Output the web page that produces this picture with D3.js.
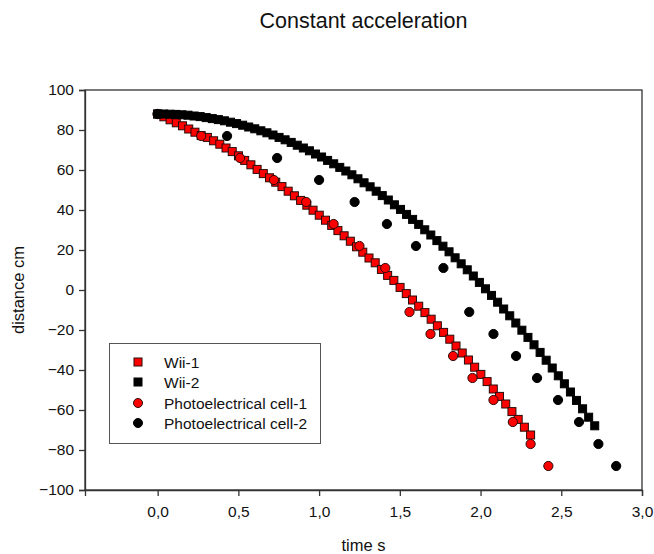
<!DOCTYPE html>
<html><head><meta charset="utf-8">
<script src="https://cdn.jsdelivr.net/npm/d3@7/dist/d3.min.js"></script>
<style>body{margin:0;background:#fff;}svg{display:block;font-family:Arial,"Liberation Sans",sans-serif;}</style>
</head><body>
<svg id="c" width="654" height="554"></svg>
<script>
const title = "Constant acceleration";
const xLabel = "time s";
const yLabel = "distance cm";
const xTicks = [0, 0.5, 1.0, 1.5, 2.0, 2.5, 3.0];
const yTicks = [-100, -80, -60, -40, -20, 0, 20, 40, 60, 80, 100];
const seriesNames = ["Wii-1", "Wii-2", "Photoelectrical cell-1", "Photoelectrical cell-2"];

const wii1T = [0,0.0385,0.077,0.1155,0.154,0.1925,0.231,0.2695,0.308,0.3465,0.385,0.4235,0.462,0.5005,0.539,0.5775,0.616,0.6545,0.693,0.7315,0.77,0.8085,0.847,0.8855,0.924,0.9625,1.001,1.0395,1.078,1.1165,1.155,1.1935,1.232,1.2705,1.309,1.3475,1.386,1.4245,1.463,1.5015,1.54,1.5785,1.617,1.6555,1.694,1.7325,1.771,1.8095,1.848,1.8865,1.925,1.9635,2.002,2.0405,2.079,2.1175,2.156,2.1945,2.233,2.2715,2.31];
const wii1D = [88.0,86.6,85.1,83.6,82.1,80.5,78.9,77.2,76.3,74.6,72.9,71.0,69.2,67.1,64.8,62.6,60.3,58.2,56.1,53.9,51.7,49.4,47.1,44.8,42.4,39.9,37.4,34.9,32.3,29.7,27.1,24.4,21.6,18.9,16.0,13.6,10.3,7.3,4.8,1.3,-1.8,-5.0,-8.1,-11.3,-14.6,-17.9,-21.2,-24.6,-28.0,-31.5,-35.0,-38.6,-42.2,-45.8,-49.5,-53.2,-57.0,-60.8,-64.7,-68.6,-72.5];

const wii2T = [0,0.0376,0.0752,0.1128,0.1504,0.188,0.2256,0.2632,0.3008,0.3384,0.376,0.4136,0.4512,0.4888,0.5264,0.564,0.6016,0.6392,0.6768,0.7144,0.752,0.7896,0.8272,0.8648,0.9024,0.94,0.9776,1.0152,1.0528,1.0904,1.128,1.1656,1.2032,1.2408,1.2784,1.316,1.3536,1.3912,1.4288,1.4664,1.504,1.5416,1.5792,1.6168,1.6544,1.692,1.7296,1.7672,1.8048,1.8424,1.88,1.9176,1.9552,1.9928,2.0304,2.068,2.1056,2.1432,2.1808,2.2184,2.256,2.2936,2.3312,2.3688,2.4064,2.444,2.4816,2.5192,2.5568,2.5944,2.632,2.6696,2.7072];
const wii2D = [88.0,88.0,87.9,87.8,87.6,87.4,87.0,86.7,86.2,85.7,85.2,84.6,83.9,83.2,82.4,81.5,80.6,79.6,78.6,77.5,76.3,75.1,73.8,72.4,71.0,69.6,68.0,66.5,64.8,63.1,61.3,59.5,57.6,55.6,53.6,51.6,49.4,47.2,45.0,42.6,40.3,37.8,35.3,32.8,30.1,27.5,24.7,21.9,19.1,16.1,13.1,10.1,7.0,3.8,0.6,-2.7,-6.1,-9.5,-12.9,-16.5,-20.1,-23.7,-27.4,-31.2,-35.1,-39.0,-42.9,-46.9,-51.0,-55.2,-59.4,-63.6,-67.9];

const pc1T = [0,0.27,0.51,0.72,0.92,1.09,1.25,1.41,1.56,1.69,1.83,1.95,2.08,2.20,2.31,2.42];
const pc1D = [88,77,66,55,44,33,22,11,-11,-22,-33,-44,-55,-66,-77,-88];
const pc2T = [0,0.43,0.74,1.00,1.22,1.42,1.60,1.77,1.93,2.08,2.22,2.35,2.48,2.61,2.73,2.84];
const pc2D = [88,77,66,55,44,33,22,11,-11,-22,-33,-44,-55,-66,-77,-88];

const svg = d3.select("#c");
const L = 85, R = 642, T = 90, B = 490;
const x = d3.scaleLinear().domain([-0.45, 3.0]).range([L, R]);
const y = d3.scaleLinear().domain([-100, 100]).range([B, T]);

svg.append("rect").attr("x", L).attr("y", T).attr("width", R - L).attr("height", B - T)
  .attr("fill", "none").attr("stroke", "#333").attr("stroke-width", 1.3);

const fmt = d => d3.format(".1f")(d).replace(".", ",");
const xAxis = svg.append("g").attr("transform", `translate(0,${B})`)
  .call(d3.axisBottom(x).tickValues(xTicks).tickFormat(fmt).tickSize(6).tickPadding(10));
const yAxis = svg.append("g").attr("transform", `translate(${L},0)`)
  .call(d3.axisLeft(y).tickValues(yTicks).tickSize(6).tickPadding(5));
[xAxis, yAxis].forEach(g => {
  g.select(".domain").attr("stroke", "#333").attr("stroke-width", 1.3);
  g.selectAll(".tick line").attr("stroke", "#333").attr("stroke-width", 1.3);
  g.selectAll(".tick text").attr("fill", "#111").attr("font-size", 15.5).attr("font-family", "Arial, 'Liberation Sans', sans-serif");
});

svg.append("text").attr("x", (L + R) / 2).attr("y", 28).attr("text-anchor", "middle")
  .attr("font-size", 21.5).attr("fill", "#111").text(title);
svg.append("text").attr("x", (L + R) / 2).attr("y", 551).attr("text-anchor", "middle")
  .attr("font-size", 16.5).attr("fill", "#111").text(xLabel);
svg.append("text").attr("transform", `translate(24,${(T + B) / 2}) rotate(-90)`).attr("text-anchor", "middle")
  .attr("font-size", 16.5).attr("fill", "#111").text(yLabel);

const plot = svg.append("g");
const sq = 8;
function squares(ts, ds, fill, stroke) {
  plot.append("g").selectAll("rect").data(ts.map((t, i) => [t, ds[i]])).join("rect")
    .attr("x", d => x(d[0]) - sq / 2).attr("y", d => y(d[1]) - sq / 2)
    .attr("width", sq).attr("height", sq).attr("fill", fill)
    .attr("stroke", stroke).attr("stroke-width", 1);
}
function circles(ts, ds, fill, stroke) {
  plot.append("g").selectAll("circle").data(ts.map((t, i) => [t, ds[i]])).join("circle")
    .attr("cx", d => x(d[0])).attr("cy", d => y(d[1])).attr("r", 4.6)
    .attr("fill", fill).attr("stroke", stroke).attr("stroke-width", 1);
}
squares(wii1T, wii1D, "#ff0000", "#2a0a0a");
squares(wii2T, wii2D, "#000", "#000");
circles(pc1T, pc1D, "#ff0000", "#2a0a0a");
circles(pc2T, pc2D, "#000", "#000");

const lg = svg.append("g");
lg.append("rect").attr("x", 109.5).attr("y", 343.5).attr("width", 211).attr("height", 100)
  .attr("fill", "#fff").attr("stroke", "#555").attr("stroke-width", 1);
const legY = [362, 382, 403, 423];
const styles = [["sq", "#ff0000", "#2a0a0a"], ["sq", "#000", "#000"], ["c", "#ff0000", "#2a0a0a"], ["c", "#000", "#000"]];
seriesNames.forEach((n, i) => {
  const [k, f, s] = styles[i];
  if (k === "sq") lg.append("rect").attr("x", 138 - 4).attr("y", legY[i] - 4).attr("width", 8).attr("height", 8).attr("fill", f).attr("stroke", s);
  else lg.append("circle").attr("cx", 138).attr("cy", legY[i]).attr("r", 4.5).attr("fill", f).attr("stroke", s);
  lg.append("text").attr("x", 164).attr("y", legY[i] + 5.5).attr("font-size", 15.5).attr("fill", "#111").text(n);
});
</script>
</body></html>
